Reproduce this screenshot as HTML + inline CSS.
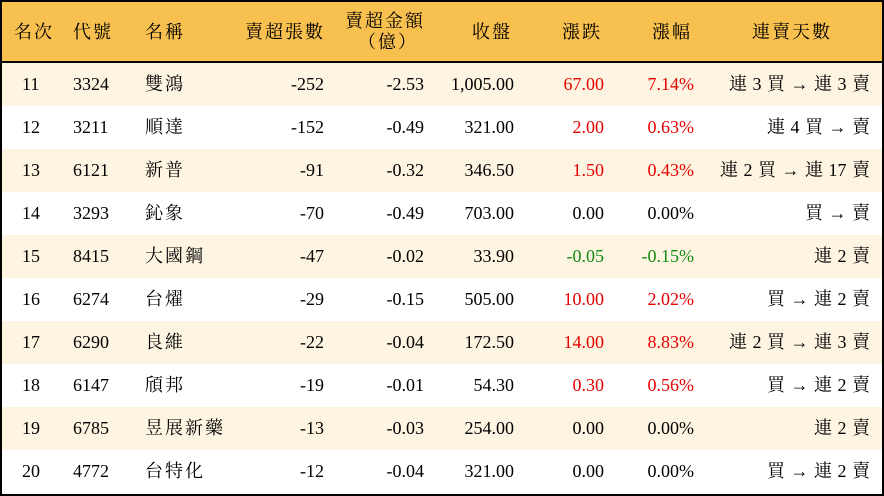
<!DOCTYPE html><html><head><meta charset="utf-8"><style>
body{margin:0;width:884px;height:496px;overflow:hidden;background:#fff;font-family:"Liberation Serif","Noto Serif CJK SC",serif;font-size:18px;color:#000}
.wrap{position:absolute;left:0;top:0;width:880px;height:492px;border:2px solid #000;}
.hd{position:absolute;left:0;top:0;width:880px;height:59px;background:#f8c04e;border-bottom:2px solid #000}
.row{position:absolute;left:0;width:880px;height:43px}
.c{position:absolute;line-height:43px;white-space:nowrap}
.h{position:absolute;white-space:nowrap;line-height:20px;letter-spacing:2px}
.k{letter-spacing:2px}
.a{font-family:"DejaVu Sans",sans-serif;font-size:17px}
.r{color:#e60000}.g{color:#138a13}
</style></head><body><div class="wrap">
<div class="hd">
<div class="h" style="left:12px;top:20px">名次</div>
<div class="h" style="left:71px;top:20px">代號</div>
<div class="h" style="left:143px;top:20px">名稱</div>
<div class="h" style="left:243px;top:20px">賣超張數</div>
<div class="h" style="left:343px;top:9px">賣超金額</div>
<div class="h" style="left:356px;top:30px">（億）</div>
<div class="h" style="left:470px;top:20px">收盤</div>
<div class="h" style="left:560px;top:20px">漲跌</div>
<div class="h" style="left:650px;top:20px">漲幅</div>
<div class="h" style="left:750px;top:20px">連賣天數</div>
</div>
<div id="rows"></div>
</div>
<script>
var d=[["11","3324","雙鴻","-252","-2.53","1,005.00","67.00","7.14%","連 3 買 → 連 3 賣","r"],
["12","3211","順達","-152","-0.49","321.00","2.00","0.63%","連 4 買 → 賣","r"],
["13","6121","新普","-91","-0.32","346.50","1.50","0.43%","連 2 買 → 連 17 賣","r"],
["14","3293","鈊象","-70","-0.49","703.00","0.00","0.00%","買 → 賣",""],
["15","8415","大國鋼","-47","-0.02","33.90","-0.05","-0.15%","連 2 賣","g"],
["16","6274","台燿","-29","-0.15","505.00","10.00","2.02%","買 → 連 2 賣","r"],
["17","6290","良維","-22","-0.04","172.50","14.00","8.83%","連 2 買 → 連 3 賣","r"],
["18","6147","頎邦","-19","-0.01","54.30","0.30","0.56%","買 → 連 2 賣","r"],
["19","6785","昱展新藥","-13","-0.03","254.00","0.00","0.00%","連 2 賣",""],
["20","4772","台特化","-12","-0.04","321.00","0.00","0.00%","買 → 連 2 賣",""]];
var h="";d.forEach(function(r,i){var last=r[8].replace("→",'<span class="a">→</span>').replace(/ /g,"&nbsp;");
h+='<div class="row" style="top:'+(61+i*43)+'px;background:'+(i%2?'#fff':'#fdf5e2')+'">'+
'<div class="c" style="left:20px">'+r[0]+'</div><div class="c" style="left:71px">'+r[1]+'</div><div class="c k" style="left:143px">'+r[2]+'</div>'+
'<div class="c" style="right:558px">'+r[3]+'</div><div class="c" style="right:458px">'+r[4]+'</div><div class="c" style="right:368px">'+r[5]+'</div>'+
'<div class="c '+r[9]+'" style="right:278px">'+r[6]+'</div><div class="c '+r[9]+'" style="right:188px">'+r[7]+'</div><div class="c" style="right:12px;word-spacing:1px">'+last+'</div></div>';});
document.getElementById("rows").innerHTML=h;
</script></body></html>
